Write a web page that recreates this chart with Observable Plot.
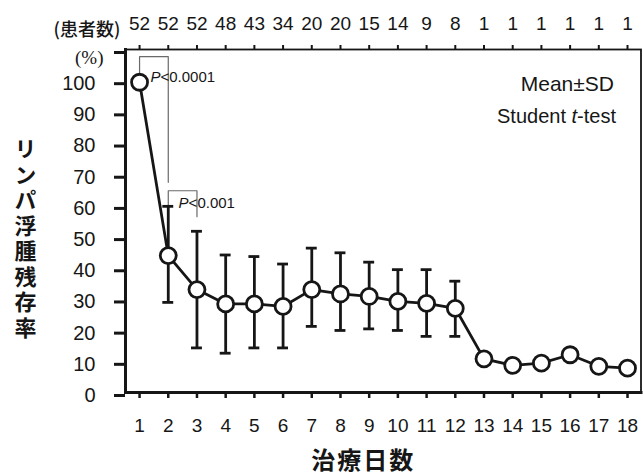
<!DOCTYPE html>
<html>
<head>
<meta charset="utf-8">
<script src="https://cdn.jsdelivr.net/npm/d3@7"></script>
<script src="https://cdn.jsdelivr.net/npm/@observablehq/plot@0.6"></script>
<style>
  html, body { margin: 0; padding: 0; background: #fff; }
</style>
</head>
<body>
<div id="chart"></div>
<script>
// ---- data ----
const days = [1, 2, 3, 4, 5, 6, 7, 8, 9, 10, 11, 12, 13, 14, 15, 16, 17, 18];
const patients = [52, 52, 52, 48, 43, 34, 20, 20, 15, 14, 9, 8, 1, 1, 1, 1, 1, 1];
const means = [99.5, 43.9, 33.0, 28.4, 28.4, 27.6, 33.0, 31.6, 30.8, 29.2, 28.6, 27.0, 10.8, 8.7, 9.4, 12.1, 8.4, 7.8];
const upperSD = [null, 59.7, 51.7, 44.1, 43.6, 41.2, 46.3, 44.8, 41.8, 39.4, 39.4, 35.7, null, null, null, null, null, null];
const lowerSD = [null, 28.9, 14.3, 12.6, 14.3, 14.3, 21.2, 19.9, 20.4, 19.9, 18.0, 18.0, null, null, null, null, null, null];
const yTicks = [0, 10, 20, 30, 40, 50, 60, 70, 80, 90, 100, 110];
const pLabels = ["P<0.0001", "P<0.001"];
// significance brackets: [day, value] vertices
const bracket1 = [[1, 102.6], [1, 107.7], [2, 107.7], [2, 67.4]];
const bracket2 = [[2, 60.0], [2, 64.7], [3, 64.7], [3, 56.4]];
const pPositions = [[1.38, 101], [2.36, 60.7]];

const yTitle = "リンパ浮腫残存率";
const xTitle = "治療日数";
const topTitle = "(患者数)";

// ---- build tables ----
const rows = days.map((d, i) => ({day: d, mean: means[i], hi: upperSD[i], lo: lowerSD[i], n: patients[i]}));
const bars = rows.filter(r => r.hi != null);
const capHalf = 0.19;
const brackets = [
  ...bracket1.map(([x, y]) => ({x, y, g: 1})),
  ...bracket2.map(([x, y]) => ({x, y, g: 2}))
];
const pRows = pLabels.map((t, i) => ({t, x: pPositions[i][0], y: pPositions[i][1]}));

const numFont = "'Liberation Sans', Arial, sans-serif";
const sansFont = "'Liberation Sans', Arial, sans-serif";
const cjkFont = "'Noto Sans CJK JP', 'Noto Sans CJK SC', sans-serif";
const ink = "#161616";

const chart = Plot.plot({
  width: 643,
  height: 475,
  marginLeft: 125,
  marginRight: 2.5,
  marginTop: 49,
  marginBottom: 83,
  style: {background: "#fff", fontFamily: sansFont, color: ink},
  x: {type: "linear", domain: [0.51, 18.47]},
  y: {domain: [0, 110]},
  marks: [
    Plot.frame({stroke: ink, strokeWidth: 1.8}),
    Plot.frame({anchor: "left", stroke: ink, strokeWidth: 3}),
    Plot.frame({anchor: "bottom", stroke: ink, strokeWidth: 3}),
    Plot.axisY({
      ticks: yTicks, tickSize: 11, tickPadding: 19, strokeWidth: 3,
      tickFormat: d => d === 110 ? "" : String(d),
      fontSize: 20, fontFamily: numFont, color: ink, dy: 3, label: null
    }),
    Plot.axisX({
      anchor: "bottom", ticks: days, tickSize: 6, tickPadding: 20, strokeWidth: 2.5,
      tickFormat: d => String(d), fontSize: 19, fontFamily: numFont, color: ink, label: null
    }),
    Plot.axisX({
      anchor: "top", ticks: days, tickSize: 5, tickPadding: 15, strokeWidth: 2,
      tickFormat: (d, i) => String(patients[i]), fontSize: 19, fontFamily: numFont, color: ink, label: null
    }),
    // significance brackets
    Plot.line(brackets, {x: "x", y: "y", z: "g", stroke: "#6a6a6a", strokeWidth: 1.2}),
    // error bars
    Plot.ruleX(bars, {x: "day", y1: "lo", y2: "hi", stroke: ink, strokeWidth: 2.8}),
    Plot.ruleY(bars, {y: "hi", x1: d => d.day - capHalf, x2: d => d.day + capHalf, stroke: ink, strokeWidth: 2.8}),
    Plot.ruleY(bars, {y: "lo", x1: d => d.day - capHalf, x2: d => d.day + capHalf, stroke: ink, strokeWidth: 2.8}),
    // mean line + markers
    Plot.line(rows, {x: "day", y: "mean", stroke: ink, strokeWidth: 2.8}),
    Plot.dot(rows, {x: "day", y: "mean", r: 8, fill: "#fff", stroke: ink, strokeWidth: 2.8}),
    // p-values
    Plot.text(pRows, {x: "x", y: "y", text: "t", textAnchor: "start", fontSize: 15, fontFamily: sansFont, fill: ink}),
    // legend text
    Plot.text(["Mean±SD"], {frameAnchor: "top-right", textAnchor: "end", dx: -27, dy: 27, fontSize: 21, fontFamily: sansFont, fill: ink}),
    Plot.text(["Student t-test"], {frameAnchor: "top-right", textAnchor: "end", dx: -25, dy: 59, fontSize: 20, fontFamily: sansFont, fill: ink}),
    // titles and unit labels
    Plot.text(["(%)"], {frameAnchor: "top-left", textAnchor: "end", dx: -22, dy: 1, fontSize: 19, fontFamily: "'Liberation Serif', 'Times New Roman', serif", fill: ink}),
    Plot.text([topTitle], {frameAnchor: "top-left", textAnchor: "start", dx: -72, dy: -26, fontSize: 18, fontWeight: 500, fontFamily: cjkFont, fill: ink}),
    Plot.text([yTitle], {frameAnchor: "left", textAnchor: "middle", lineAnchor: "middle", dx: -100, dy: 12, fontSize: 22, fontWeight: "bold", fontFamily: cjkFont, fill: ink}),
    Plot.text([xTitle], {frameAnchor: "bottom", textAnchor: "middle", dx: -20, dy: 76, fontSize: 24, fontWeight: "bold", fontFamily: cjkFont, fill: ink})
  ]
});

// italic P and t in the annotation strings, vertical y title
d3.select(chart).selectAll("text").each(function () {
  const el = d3.select(this);
  const txt = this.textContent;
  if (txt.startsWith("P<")) {
    el.text("");
    el.append("tspan").attr("font-style", "italic").text("P");
    el.append("tspan").text(txt.slice(1));
  } else if (txt === "Student t-test") {
    el.text("");
    el.append("tspan").text("Student ");
    el.append("tspan").attr("font-style", "italic").text("t");
    el.append("tspan").text("-test");
  } else if (txt === yTitle) {
    el.attr("dy", null)
      .style("writing-mode", "vertical-rl")
      .style("text-orientation", "upright")
      .style("letter-spacing", "3.5px");
  } else if (txt === xTitle) {
    el.style("letter-spacing", "2px");
  }
});

document.getElementById("chart").appendChild(chart);
</script>
</body>
</html>
